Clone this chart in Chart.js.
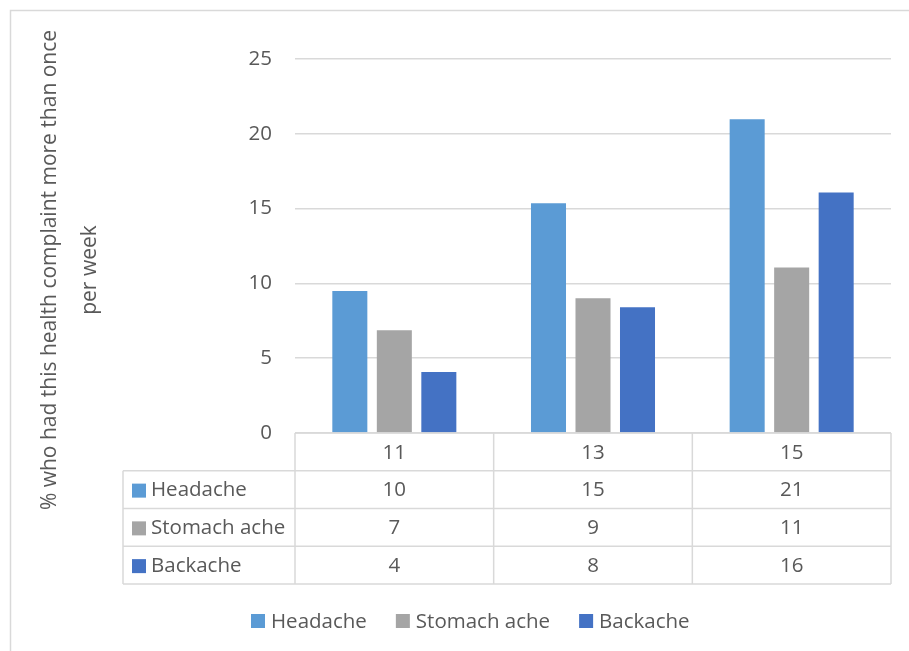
<!DOCTYPE html>
<html>
<head>
<meta charset="utf-8">
<script src="https://cdn.jsdelivr.net/npm/chart.js@4"></script>
<style>
  html, body { margin: 0; padding: 0; background: #ffffff; }
  #wrap { width: 909px; height: 651px; }
</style>
</head>
<body>
<div id="wrap"><canvas id="healthChart" width="909" height="651"></canvas></div>
<script>
// age groups on the category axis
var categories = ['11', '13', '15'];
// % with the complaint more than once per week
var headache = [9.5, 15.35, 20.98];
var stomachAche = [6.87, 9.0, 11.07];
var backache = [4.07, 8.4, 16.07];
var yTicks = [0, 5, 10, 15, 20, 25];

var seriesNames = ['Headache', 'Stomach ache', 'Backache'];
var seriesColors = ['#5B9BD5', '#A5A5A5', '#4472C4'];
var titleLines = ['% who had this health complaint more than once', 'per week'];

var textColor = '#595959';
var lineColor = '#d9d9d9';
var fontFamily = '"Open Sans", sans-serif';
var fontSize = 20.5;

// draws the frame, the axis title, the data table and the legend
var excelExtras = {
    id: 'excelExtras',
    beforeDraw: function (chart) {
        var ctx = chart.ctx;
        ctx.save();
        ctx.strokeStyle = lineColor;
        ctx.lineWidth = 1.5;
        ctx.strokeRect(10.5, 10.5, 1000, 1000);
        ctx.restore();
    },
    afterDraw: function (chart) {
        var ctx = chart.ctx;
        var area = chart.chartArea;
        var x = chart.scales.x;
        var left = area.left, right = area.right;
        var colW = (right - left) / categories.length;
        var top = area.bottom;
        var rowH = 37.75;
        var labelLeft = 123;
        var rows = [headache, stomachAche, backache];

        ctx.save();
        ctx.strokeStyle = lineColor;
        ctx.lineWidth = 1.5;
        ctx.beginPath();
        // header row top
        ctx.moveTo(left, top); ctx.lineTo(right, top);
        for (var r = 1; r <= rows.length + 1; r++) {
            var yy = top + r * rowH;
            ctx.moveTo(labelLeft, yy); ctx.lineTo(right, yy);
        }
        ctx.moveTo(labelLeft, top + rowH); ctx.lineTo(labelLeft, top + (rows.length + 1) * rowH);
        for (var c = 0; c <= categories.length; c++) {
            var xx = left + c * colW;
            ctx.moveTo(xx, top); ctx.lineTo(xx, top + (rows.length + 1) * rowH);
        }
        ctx.stroke();

        ctx.font = fontSize + 'px ' + fontFamily;
        ctx.fillStyle = textColor;
        ctx.textBaseline = 'middle';
        ctx.textAlign = 'center';
        categories.forEach(function (cat, i) {
            ctx.fillText(cat, x.getPixelForValue(i), top + rowH / 2 + 1);
        });
        rows.forEach(function (vals, r) {
            var cy = top + (r + 1) * rowH + rowH / 2 + 1;
            ctx.fillStyle = seriesColors[r];
            ctx.fillRect(132, cy - 7, 14, 14);
            ctx.fillStyle = textColor;
            ctx.textAlign = 'left';
            ctx.fillText(seriesNames[r], 151, cy);
            ctx.textAlign = 'center';
            vals.forEach(function (v, i) {
                ctx.fillText(String(Math.round(v)), x.getPixelForValue(i), cy);
            });
        });

        // y axis title, two lines rotated
        var titleX = [50, 90];
        ctx.font = '21px ' + fontFamily;
        titleLines.forEach(function (line, i) {
            ctx.save();
            ctx.translate(titleX[i], 270);
            ctx.rotate(-Math.PI / 2);
            ctx.textAlign = 'center';
            ctx.fillText(line, 0, 0);
            ctx.restore();
        });
        ctx.font = fontSize + 'px ' + fontFamily;

        // legend
        var lx = 251, ly = 621;
        ctx.textAlign = 'left';
        seriesNames.forEach(function (name, i) {
            ctx.fillStyle = seriesColors[i];
            ctx.fillRect(lx, ly - 7, 14, 14);
            ctx.fillStyle = textColor;
            ctx.fillText(name, lx + 20, ly + 1);
            lx += 20 + ctx.measureText(name).width + 29;
        });
        ctx.restore();
    }
};

var ctxChart = document.getElementById('healthChart').getContext('2d');

var healthChart = new Chart(ctxChart, {
    type: 'bar',
    data: {
        labels: categories,
        datasets: [
            { label: seriesNames[0], data: headache, backgroundColor: seriesColors[0] },
            { label: seriesNames[1], data: stomachAche, backgroundColor: seriesColors[1] },
            { label: seriesNames[2], data: backache, backgroundColor: seriesColors[2] }
        ]
    },
    options: {
        responsive: false,
        animation: false,
        devicePixelRatio: 1,
        categoryPercentage: 0.672,
        barPercentage: 0.787,
        layout: { padding: { left: 0, right: 18, top: 59, bottom: 218 } },
        plugins: {
            legend: { display: false },
            tooltip: { enabled: false }
        },
        scales: {
            x: { display: false },
            y: {
                min: 0,
                max: 25,
                afterBuildTicks: function (scale) {
                    scale.ticks = yTicks.map(function (v) { return { value: v }; });
                },
                afterFit: function (scale) { scale.width = 295; },
                border: { display: false },
                grid: { color: lineColor, lineWidth: 1.5, drawTicks: false },
                ticks: {
                    padding: 23,
                    color: textColor,
                    font: { family: fontFamily, size: fontSize }
                }
            }
        }
    },
    plugins: [excelExtras]
});
</script>
</body>
</html>
